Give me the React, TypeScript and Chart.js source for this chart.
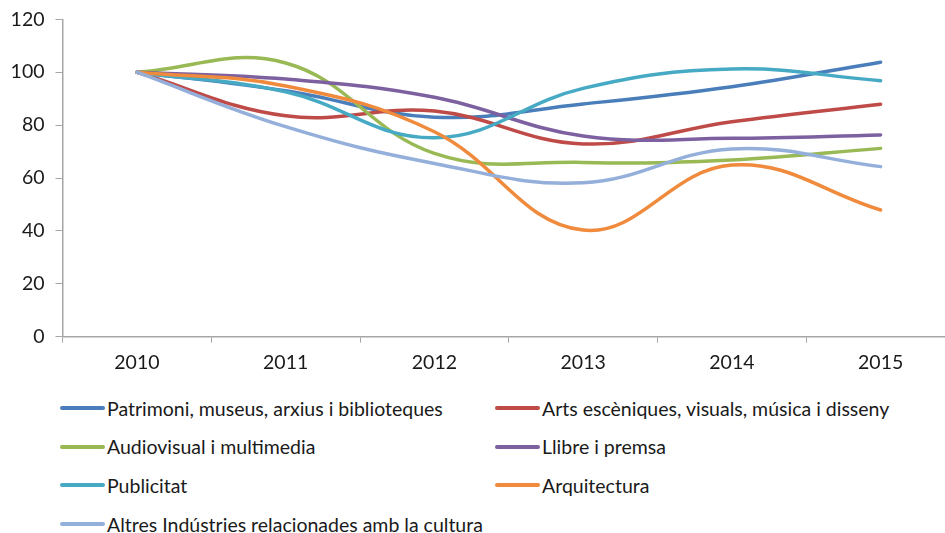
import React, { useEffect, useRef } from "react";
import { Chart, registerables } from "chart.js";

Chart.register(...registerables);

const years = ["2010", "2011", "2012", "2013", "2014", "2015"];
const seriesNames = [
  "Patrimoni, museus, arxius i biblioteques",
  "Arts escèniques, visuals, música i disseny",
  "Audiovisual i multimedia",
  "Llibre i premsa",
  "Publicitat",
  "Arquitectura",
  "Altres Indústries relacionades amb la cultura",
];
const patrimoni = [100, 93, 83, 88, 94.5, 103.8];
const arts = [100, 83.5, 85.3, 72.9, 81.3, 87.9];
const audiovisual = [100, 103.5, 69.3, 65.9, 66.8, 71.2];
const llibre = [100, 97.4, 90.5, 75.9, 75, 76.3];
const publicitat = [100, 92.6, 75.2, 93.9, 101.2, 96.8];
const arquitectura = [100, 94.8, 77.5, 40.3, 64.9, 47.9];
const altres = [100, 79.4, 65.5, 58.2, 71, 64.3];
const seriesValues = [patrimoni, arts, audiovisual, llibre, publicitat, arquitectura, altres];
const colors = ["#4A7EBB", "#BE4B48", "#98B954", "#7D60A0", "#46AAC5", "#F08A3C", "#94AFDA"];
const yTicks = [0, 20, 40, 60, 80, 100, 120];

const FONT = "Lato, 'Open Sans', sans-serif";

export default function App() {
  const ref = useRef<HTMLCanvasElement | null>(null);
  useEffect(() => {
    if (!ref.current) return;
    const chart = new Chart(ref.current, {
      type: "line",
      data: {
        labels: years,
        datasets: seriesValues.map((vals, i) => ({
          label: seriesNames[i],
          data: vals,
          borderColor: colors[i],
          backgroundColor: colors[i],
          borderWidth: 3.5,
          borderCapStyle: "round",
          pointRadius: 0,
          tension: 0.4,
          fill: false,
          order: -i,
        })),
      },
      options: {
        animation: false,
        responsive: false,
        devicePixelRatio: 1,
        layout: { padding: { top: 19.3, left: 0, right: 5, bottom: 0 } },
        plugins: { legend: { display: false }, tooltip: { enabled: false } },
        scales: {
          x: {
            offset: true,
            grid: {
              offset: true,
              drawOnChartArea: false,
              drawTicks: true,
              tickLength: 6,
              color: "#A6A6A6",
            },
            border: { color: "#A6A6A6", width: 1.5 },
            ticks: {
              color: "#1a1a1a",
              font: { family: FONT, size: 19.5 },
              padding: 8,
              maxRotation: 0,
            },
            afterFit: (s: any) => {
              s.height = 43.3;
            },
          },
          y: {
            min: 0,
            max: 120,
            afterBuildTicks: (s: any) => {
              s.ticks = yTicks.map((v) => ({ value: v }));
            },
            grid: {
              drawOnChartArea: false,
              drawTicks: true,
              tickLength: 7,
              color: "#A6A6A6",
            },
            border: { color: "#A6A6A6", width: 1.5 },
            ticks: {
              color: "#1a1a1a",
              font: { family: FONT, size: 19.5 },
              padding: 11,
            },
            afterFit: (s: any) => {
              s.width = 62.5;
              s.paddingTop = 10;
              s.paddingBottom = 10;
            },
          },
        },
      },
    });
    return () => chart.destroy();
  }, []);

  return (
    <div
      style={{
        position: "fixed",
        left: 0,
        top: 0,
        width: 945,
        height: 533,
        overflow: "hidden",
        background: "#fff",
      }}
    >
      <canvas
        ref={ref}
        width={960}
        height={380}
        style={{ position: "absolute", left: 0, top: 0, width: 960, height: 380 }}
      />
      {seriesNames.map((name, i) => {
        const col = i % 2;
        const row = Math.floor(i / 2);
        const left = col === 0 ? 60 : 495;
        const top = 408 + row * 38.7;
        return (
          <div
            key={name}
            style={{
              position: "absolute",
              left,
              top: top - 13,
              height: 26,
              display: "flex",
              alignItems: "center",
              whiteSpace: "nowrap",
              fontFamily: FONT,
              fontSize: 19.5,
              color: "#1a1a1a",
            }}
          >
            <span
              style={{
                display: "inline-block",
                width: 45,
                height: 4,
                background: colors[i],
                borderRadius: 2,
                marginRight: 2,
              }}
            />
            <span>{name}</span>
          </div>
        );
      })}
    </div>
  );
}
